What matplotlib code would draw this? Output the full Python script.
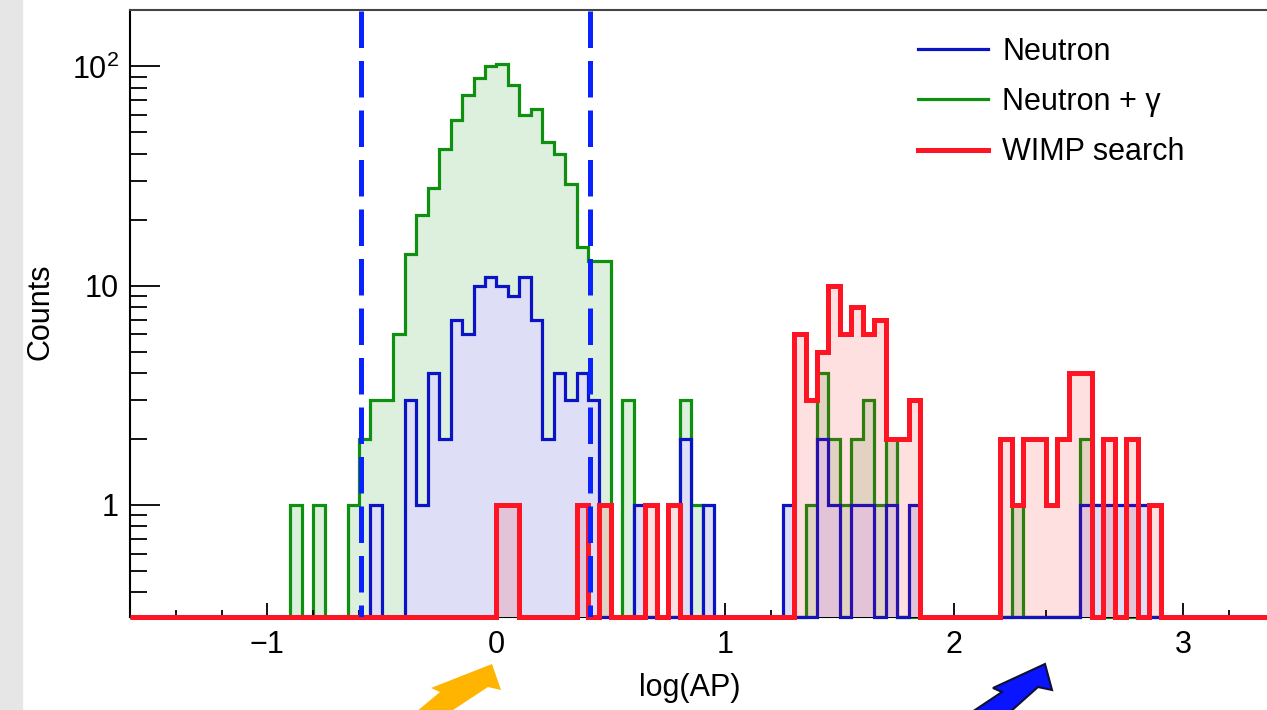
import numpy as np
import matplotlib.pyplot as plt
from matplotlib.lines import Line2D
from matplotlib.patches import Polygon, Rectangle
from matplotlib.ticker import MultipleLocator, FixedLocator, FixedFormatter, LogLocator, NullFormatter

plt.rcParams['font.family'] = ['Liberation Sans', 'DejaVu Sans']
plt.rcParams['mathtext.fontset'] = 'custom'
plt.rcParams['mathtext.rm'] = 'Liberation Sans'

# histogram binning (log(AP))
x_min, x_max, bin_w = -1.6, 3.4, 0.05
y_min, y_max = 0.307, 181.0

# Neutron + gamma : bin lower edge / counts
green_lo = [-0.90, -0.80, -0.65, -0.60, -0.55, -0.50, -0.45, -0.40, -0.35, -0.30,
            -0.25, -0.20, -0.15, -0.10, -0.05, 0.00, 0.05, 0.10, 0.15, 0.20,
            0.25, 0.30, 0.35, 0.40, 0.45, 0.55, 0.80, 0.85, 1.35, 1.40,
            1.45, 1.50, 1.55, 1.60, 1.65, 1.70, 2.25, 2.55, 2.60]
green_n = [1, 1, 1, 2, 3, 3, 6, 14, 21, 28,
           42, 57, 74, 89, 100, 103, 82, 60, 64, 45,
           40, 29, 15, 13, 13, 3, 3, 1, 1, 4,
           2, 1, 2, 3, 1, 2, 1, 2, 1]

# Neutron
blue_lo = [-0.55, -0.40, -0.35, -0.30, -0.25, -0.20, -0.15, -0.10, -0.05, 0.00,
           0.05, 0.10, 0.15, 0.20, 0.25, 0.30, 0.35, 0.40, 0.60, 0.80,
           0.90, 1.25, 1.40, 1.45, 1.55, 1.60, 1.70, 1.80, 2.55, 2.60,
           2.65, 2.70, 2.75, 2.80]
blue_n = [1, 3, 1, 4, 2, 7, 6, 10, 11, 10,
          9, 11, 7, 2, 4, 3, 4, 3, 1, 2,
          1, 1, 2, 1, 1, 1, 1, 1, 1, 1,
          1, 1, 1, 1]

# WIMP search
red_lo = [0.00, 0.05, 0.35, 0.45, 0.65, 0.75, 1.30, 1.35, 1.40, 1.45,
          1.50, 1.55, 1.60, 1.65, 1.70, 1.75, 1.80, 2.20, 2.25, 2.30,
          2.35, 2.40, 2.45, 2.50, 2.55, 2.65, 2.75, 2.85]
red_n = [1, 1, 1, 1, 1, 1, 6, 3, 5, 10,
         6, 8, 6, 7, 2, 2, 3, 2, 1, 2,
         2, 1, 2, 4, 4, 2, 2, 1]

cut_lo, cut_hi = -0.59, 0.41

nbins = int(round((x_max - x_min) / bin_w))
edges = np.linspace(x_min, x_max, nbins + 1)


def make_hist(lows, counts):
    h = np.zeros(nbins)
    for lo, c in zip(lows, counts):
        h[int(round((lo - x_min) / bin_w))] = c
    return np.where(h > 0, h, y_min)


W, H = 1267, 710
fig = plt.figure(figsize=(W / 100, H / 100), dpi=100)
ax = fig.add_axes([130 / W, (H - 617.3) / H, 1145 / W, 607.3 / H])

ax.set_yscale('log')
ax.set_xlim(x_min, x_max)
ax.set_ylim(y_min, y_max)

series = [
    (green_lo, green_n, '#109010', '#ddf0dd', 1.0, 2.3, 1),
    (blue_lo, blue_n, '#0a14c4', '#dedef6', 1.0, 2.3, 3),
    (red_lo, red_n, '#ff1424', '#ff0000', 0.12, 3.6, 5),
]
for lo, n, lc, fc, fa, lw, z in series:
    v = make_hist(lo, n)
    ax.stairs(v, edges, baseline=y_min, fill=True, color=fc, alpha=fa, zorder=z, lw=0)
    ax.stairs(v, edges, baseline=y_min, color=lc, lw=lw, zorder=z + 0.5, clip_on=False)

for xc in (cut_lo, cut_hi):
    ax.plot([xc, xc], [y_max * 0.985, y_min], color='#0a22ff', lw=3.6,
            dashes=(7.3, 2.6), zorder=8, solid_capstyle='butt')

# axes styling
ax.xaxis.set_major_locator(MultipleLocator(1))
ax.xaxis.set_minor_locator(MultipleLocator(0.2))
ax.yaxis.set_major_locator(FixedLocator([1, 10, 100]))
ax.yaxis.set_major_formatter(FixedFormatter(['1', '10', r'$\mathregular{10^2}$']))
ax.yaxis.set_minor_locator(LogLocator(subs=np.arange(2, 10), numticks=20))
ax.yaxis.set_minor_formatter(NullFormatter())

ax.tick_params(axis='x', which='major', direction='in', length=10, width=1.3,
               labelsize=22, pad=9, top=False)
ax.tick_params(axis='x', which='minor', direction='in', length=5, width=1.3, top=False)
ax.tick_params(axis='y', which='major', direction='in', length=21.5, width=1.3,
               labelsize=22, pad=8, right=False)
ax.tick_params(axis='y', which='minor', direction='in', length=12, width=1.3, right=False)

for s in ('left', 'bottom'):
    ax.spines[s].set_linewidth(1.5)
ax.spines['top'].set_linewidth(1.5)
ax.spines['top'].set_color('#444444')
ax.spines['right'].set_visible(False)

fig.text(40 / W, 1 - 312 / H, 'Counts', rotation=90, ha='center', va='center', fontsize=22)
fig.text(690 / W, 1 - 688 / H, 'log(AP)', ha='center', va='center', fontsize=22)

handles = [Line2D([], [], color='#0a14c4', lw=2.3),
           Line2D([], [], color='#109010', lw=2.3),
           Line2D([], [], color='#ff1424', lw=3.6)]
ax.legend(handles, ['Neutron', 'Neutron + \u03b3', 'WIMP search'],
          loc='upper left', bbox_to_anchor=(918 / W, 1 - 37 / H),
          bbox_transform=fig.transFigure, frameon=False, fontsize=22,
          handlelength=2.3, handletextpad=0.45, labelspacing=0.66,
          borderpad=0, borderaxespad=0)

# slide decorations: grey strip and arrows
fig.patches.append(Rectangle((0, 0), 22 / W, 1, transform=fig.transFigure,
                             color='#e6e6e6', zorder=0))


def to_fig(pts):
    return [(px / W, 1 - py / H) for px, py in pts]


orange = [(416, 712), (440, 692), (431, 688), (492, 664), (501, 690), (488, 687), (450, 712)]
blue_arrow = [(972, 712), (1002, 692), (993, 688), (1045, 664), (1052, 690), (1038, 687), (1010, 712)]
fig.patches.append(Polygon(to_fig(orange), closed=True, transform=fig.transFigure,
                           facecolor='#ffb400', edgecolor='none', zorder=10))
fig.patches.append(Polygon(to_fig(blue_arrow), closed=True, transform=fig.transFigure,
                           facecolor='#0a14ff', edgecolor='#101030', lw=1.5, zorder=10))

fig.savefig('out.png', dpi=100)
